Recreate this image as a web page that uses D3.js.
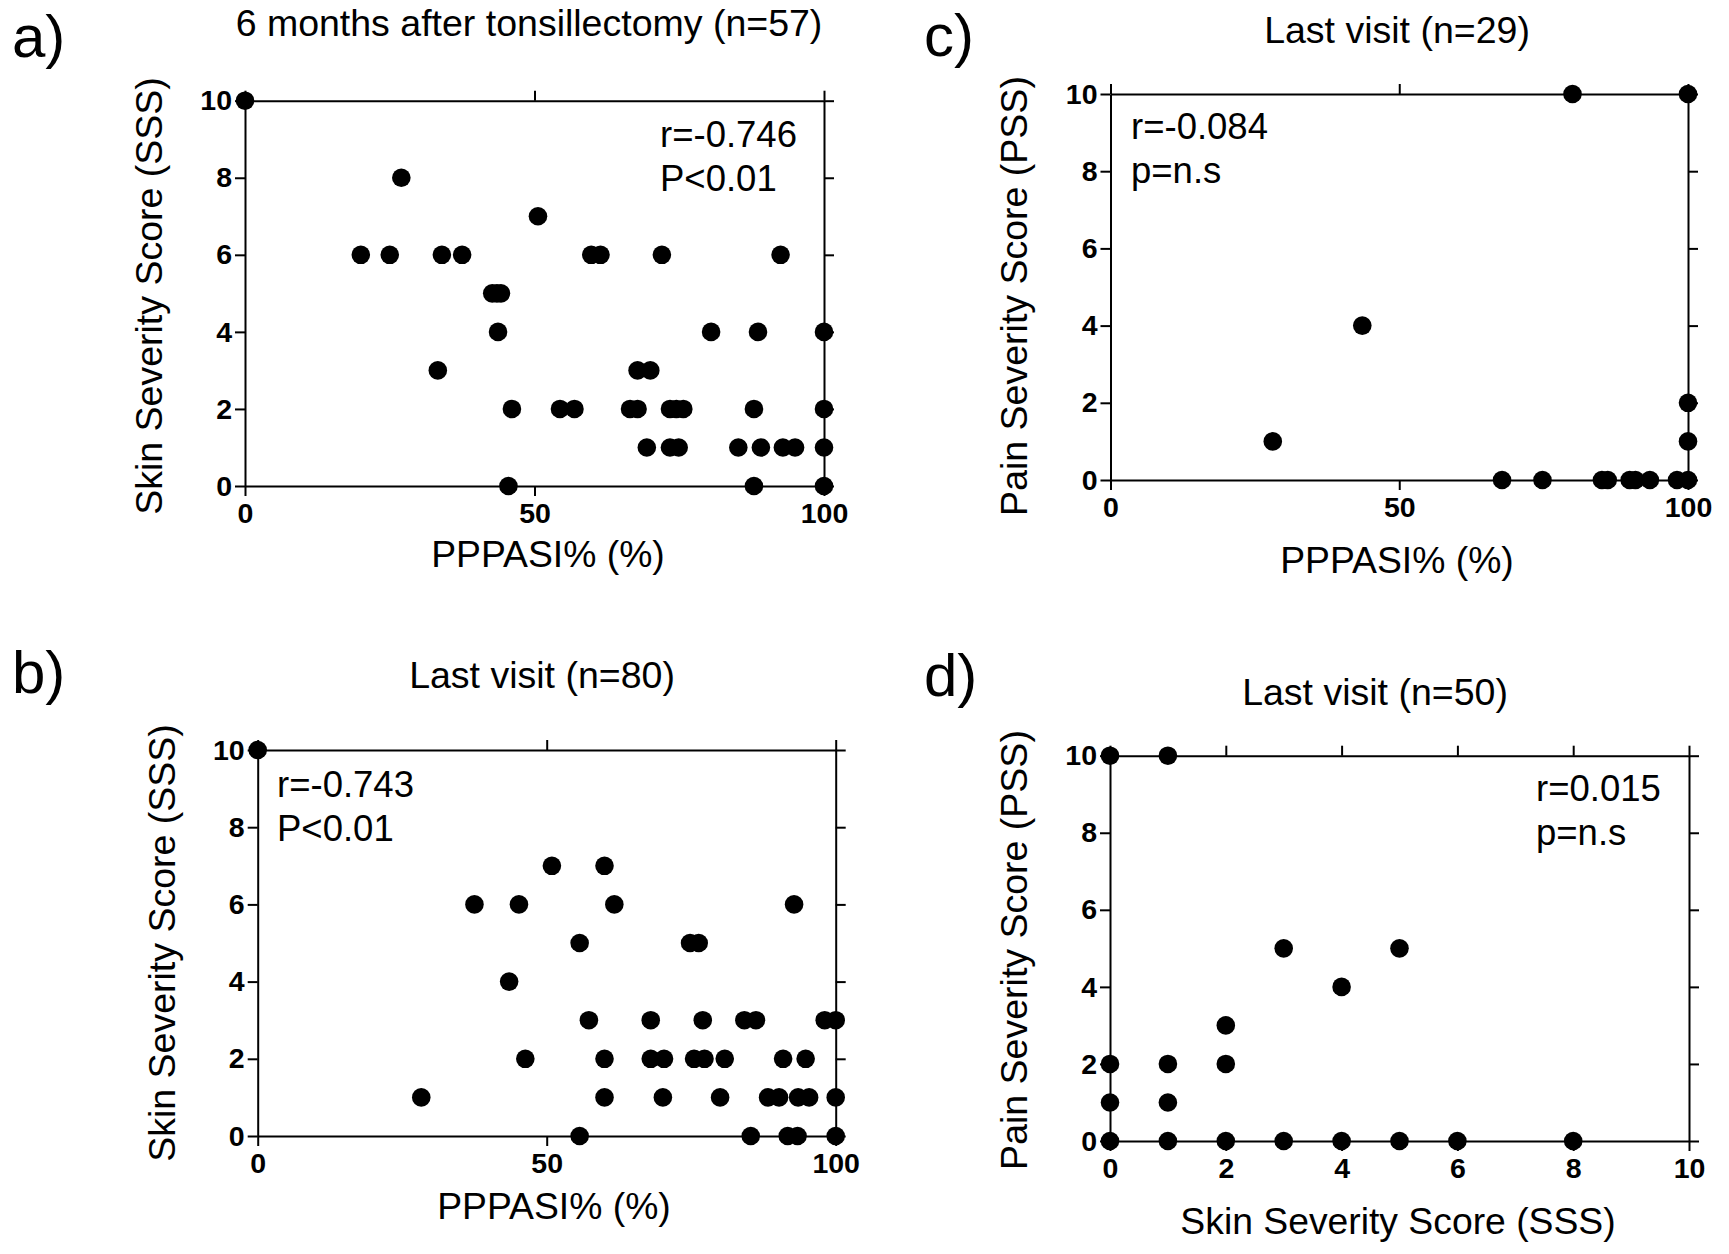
<!DOCTYPE html>
<html>
<head>
<meta charset="utf-8">
<script src="https://cdn.jsdelivr.net/npm/d3@7"></script>
<style>
  html, body { margin: 0; padding: 0; background: #fff; }
  svg { display: block; }
</style>
</head>
<body>
<svg id="fig" width="1729" height="1254"></svg>
<script>
// Tick values shared by the panels
const pctTicks = [0, 50, 100];
const scoreTicks = [0, 2, 4, 6, 8, 10];

// a) 6 months after tonsillectomy: PPPASI% vs SSS
const pppasiA = [0, 27, 20, 25, 34, 37.5, 59.8, 61.4, 72, 92.5, 50.6, 42.7, 43.5, 44.2,
  43.7, 80.5, 88.6, 100, 33.3, 67.8, 70, 46.1, 54.4, 56.9, 66.5, 67.8, 73.4, 74.5, 75.7,
  87.9, 100, 69.4, 73.4, 74.9, 85.2, 89.1, 92.9, 95, 100, 45.5, 87.9, 100];
const sssA = [10, 8, 6, 6, 6, 6, 6, 6, 6, 6, 7, 5, 5, 5,
  4, 4, 4, 4, 3, 3, 3, 2, 2, 2, 2, 2, 2, 2, 2,
  2, 2, 1, 1, 1, 1, 1, 1, 1, 1, 0, 0, 0];

// b) Last visit: PPPASI% vs SSS
const pppasiB = [0, 28.3, 37.5, 45.2, 43.5, 46.3, 50.9, 60, 61.7, 55.7, 57.3, 55.7, 60, 60,
  68, 68, 70.3, 70.1, 74.8, 76.3, 77, 75.5, 77.3, 80.8, 80, 84.2, 86.2, 85.3, 92.8, 90.9,
  94.8, 88.3, 90.2, 93.5, 95.4, 91.7, 93.4, 98.1, 100, 100, 100];
const sssB = [10, 1, 6, 6, 4, 2, 7, 7, 6, 5, 3, 0, 2, 1,
  3, 2, 2, 1, 5, 5, 3, 2, 2, 2, 1, 3, 3, 0, 6, 2,
  2, 1, 1, 1, 1, 0, 0, 3, 3, 1, 0];

// c) Last visit: PPPASI% vs PSS
const pppasiC = [80, 100, 43.6, 28.1, 100, 100, 67.8, 74.8, 85.1, 86.1, 89.9, 90.9, 93.4, 98.1, 100];
const pssC = [10, 10, 4, 1, 2, 1, 0, 0, 0, 0, 0, 0, 0, 0, 0];

// d) Last visit: SSS vs PSS
const sssD = [0, 1, 3, 5, 4, 2, 0, 1, 2, 0, 1, 0, 1, 2, 3, 4, 5, 6, 8];
const pssD = [10, 10, 5, 5, 4, 3, 2, 2, 2, 1, 1, 0, 0, 0, 0, 0, 0, 0, 0];

const FONT = "'Liberation Sans', Arial, Helvetica, sans-serif";
const svg = d3.select("#fig");

function panel(cfg) {
  const x = d3.scaleLinear().domain(cfg.xDomain).range([cfg.x0, cfg.x1]);
  const y = d3.scaleLinear().domain([0, 10]).range([cfg.y0, cfg.y1]);
  const g = svg.append("g");

  const styleAxis = sel => {
    sel.attr("font-family", FONT).attr("font-size", 28.5).attr("font-weight", "bold");
    sel.selectAll("path.domain").attr("stroke", "#000").attr("stroke-width", 2);
    sel.selectAll(".tick line").attr("stroke", "#000").attr("stroke-width", 2);
    sel.selectAll(".tick text").attr("fill", "#000");
  };

  g.append("g").attr("transform", `translate(0,${cfg.y0})`)
    .call(d3.axisBottom(x).tickValues(cfg.xTicks).tickSize(10).tickSizeOuter(0).tickPadding(7))
    .call(styleAxis);
  g.append("g").attr("transform", `translate(0,${cfg.y1})`)
    .call(d3.axisTop(x).tickValues(cfg.xTicks).tickSize(10).tickSizeOuter(0).tickFormat(""))
    .call(styleAxis);
  g.append("g").attr("transform", `translate(${cfg.x0},0)`)
    .call(d3.axisLeft(y).tickValues(scoreTicks).tickSize(10).tickSizeOuter(0).tickPadding(3))
    .call(styleAxis);
  g.append("g").attr("transform", `translate(${cfg.x1},0)`)
    .call(d3.axisRight(y).tickValues(scoreTicks).tickSize(10).tickSizeOuter(0).tickFormat(""))
    .call(styleAxis);

  g.append("g").selectAll("circle")
    .data(d3.zip(cfg.xs, cfg.ys))
    .join("circle")
    .attr("cx", d => x(d[0]))
    .attr("cy", d => y(d[1]))
    .attr("r", 9.3)
    .attr("fill", "#000");

  const txt = (s, px, py, opts = {}) => g.append("text")
    .attr("x", px).attr("y", py)
    .attr("font-family", FONT)
    .attr("font-size", opts.size || 36)
    .attr("text-anchor", opts.anchor || "start")
    .attr("transform", opts.rotate ? `rotate(-90,${px},${py})` : null)
    .attr("fill", "#000")
    .text(s);

  txt(cfg.letter, cfg.letterX, cfg.letterY, { size: 60 });
  txt(cfg.title, cfg.titleX, cfg.titleY, { anchor: "middle", size: 37.5 });
  txt(cfg.xLabel, cfg.xLabelX, cfg.xLabelY, { anchor: "middle", size: 37.3 });
  txt(cfg.yLabel, cfg.yLabelX, cfg.yLabelY, { anchor: "middle", size: 37.5, rotate: true });
  txt(cfg.stat1, cfg.statX, cfg.statY, { size: 36.5 });
  txt(cfg.stat2, cfg.statX, cfg.statY + 44, { size: 36.5 });
}

panel({
  letter: "a)", letterX: 12, letterY: 57,
  title: "6 months after tonsillectomy (n=57)", titleX: 529, titleY: 36,
  xLabel: "PPPASI% (%)", xLabelX: 548, xLabelY: 567,
  yLabel: "Skin Severity Score (SSS)", yLabelX: 162, yLabelY: 296,
  stat1: "r=-0.746", stat2: "P<0.01", statX: 660, statY: 147,
  xDomain: [0, 100], xTicks: pctTicks,
  x0: 245, x1: 824, y0: 486, y1: 100.7,
  xs: pppasiA, ys: sssA
});

panel({
  letter: "b)", letterX: 12, letterY: 693,
  title: "Last visit (n=80)", titleX: 542, titleY: 688,
  xLabel: "PPPASI% (%)", xLabelX: 554, xLabelY: 1219,
  yLabel: "Skin Severity Score (SSS)", yLabelX: 175, yLabelY: 943,
  stat1: "r=-0.743", stat2: "P<0.01", statX: 277, statY: 797,
  xDomain: [0, 100], xTicks: pctTicks,
  x0: 257.7, x1: 835.7, y0: 1136, y1: 750,
  xs: pppasiB, ys: sssB
});

panel({
  letter: "c)", letterX: 924, letterY: 56,
  title: "Last visit (n=29)", titleX: 1397, titleY: 43,
  xLabel: "PPPASI% (%)", xLabelX: 1397, xLabelY: 573,
  yLabel: "Pain Severity Score (PSS)", yLabelX: 1027, yLabelY: 296,
  stat1: "r=-0.084", stat2: "p=n.s", statX: 1131, statY: 139,
  xDomain: [0, 100], xTicks: pctTicks,
  x0: 1110.5, x1: 1688, y0: 480, y1: 94,
  xs: pppasiC, ys: pssC
});

panel({
  letter: "d)", letterX: 924, letterY: 696,
  title: "Last visit (n=50)", titleX: 1375, titleY: 705,
  xLabel: "Skin Severity Score (SSS)", xLabelX: 1398, xLabelY: 1234,
  yLabel: "Pain Severity Score (PSS)", yLabelX: 1027, yLabelY: 950,
  stat1: "r=0.015", stat2: "p=n.s", statX: 1536, statY: 801,
  xDomain: [0, 10], xTicks: scoreTicks,
  x0: 1110, x1: 1689, y0: 1141, y1: 755.7,
  xs: sssD, ys: pssD
});
</script>
</body>
</html>
